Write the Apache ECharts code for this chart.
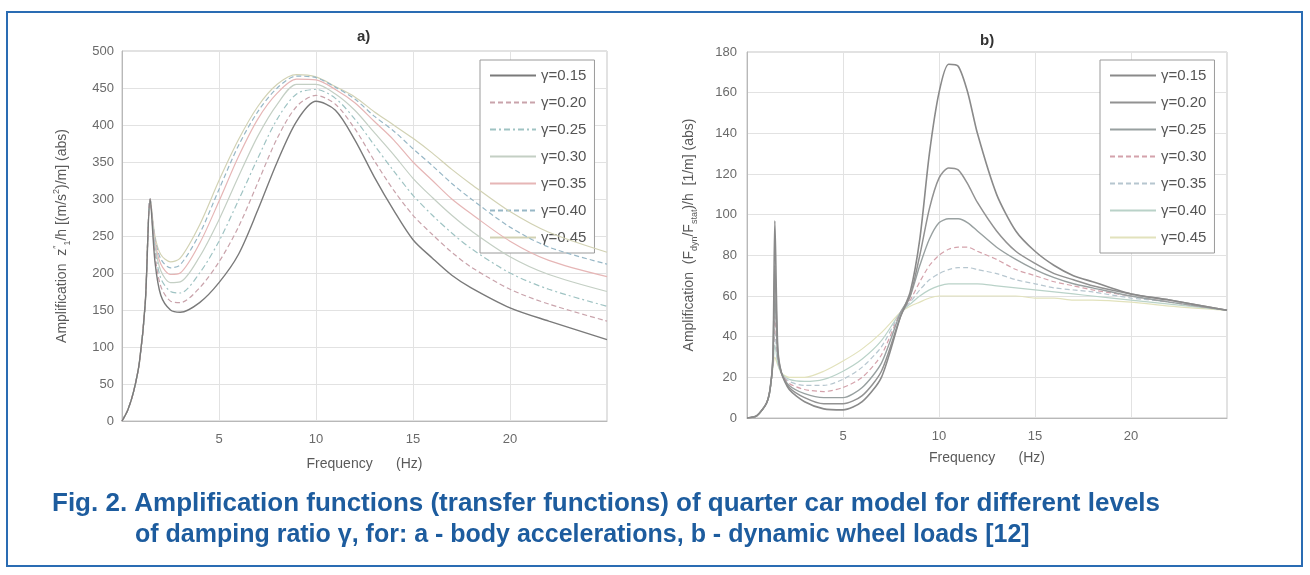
<!DOCTYPE html>
<html><head><meta charset="utf-8">
<script src="https://cdn.jsdelivr.net/npm/echarts@6/dist/echarts.min.js"></script>
<style>html,body{margin:0;padding:0;background:#fff}#c{width:1310px;height:575px}</style>
</head><body><div id="c"></div>
<script>
// ---------- data ----------
const gammaLabels = ['γ=0.15','γ=0.20','γ=0.25','γ=0.30','γ=0.35','γ=0.40','γ=0.45'];
const ticksA = [0,50,100,150,200,250,300,350,400,450,500];
const ticksB = [0,20,40,60,80,100,120,140,160,180];
const freqTicks = [5,10,15,20];

// panel a) body accelerations
const freqA = [0,0.3,0.6,0.9,1.2,1.45,1.7,2,2.5,3,4,5,6,7,8,9,10,11,12,13,14,15,16,17,18,20,22,25];
const accelG15 = [0,15,40,80,160,300,215,170,150,147,160,187,225,285,350,405,432,420,380,330,285,245,220,197,180,153,135,110];
const accelG20 = [0,15,40,80,160,300,225,182,162,160,180,215,262,322,382,425,440,428,395,352,312,278,252,228,208,178,158,135];
const accelG25 = [0,15,40,80,160,300,232,193,175,173,200,243,298,355,408,442,448,436,408,373,338,305,278,254,233,200,178,155];
const accelG30 = [0,15,40,80,160,300,238,203,187,188,222,272,330,385,428,455,455,442,420,390,360,328,302,278,257,222,198,175];
const accelG35 = [0,15,40,80,160,300,243,212,198,200,240,297,357,408,443,462,461,448,430,405,380,350,325,300,280,243,217,195];
const accelG40 = [0,15,40,80,160,300,247,219,207,211,253,313,372,418,450,466,464,451,435,412,392,368,345,321,300,262,235,212];
const accelG45 = [0,15,40,80,160,300,250,225,215,220,265,325,380,425,455,468,465,452,438,418,400,382,362,340,320,283,255,228];

// panel b) dynamic wheel loads
const freqB = [0,0.5,1,1.2,1.35,1.45,1.6,1.8,2.2,3,4,5,6,7,8,8.5,9,9.5,10,10.5,11,11.5,12,13,14,15,16,17,18,20,22,25];
const wheelG15 = [0,1,7,14,30,97,35,22,14,8,4.5,4,8,20,50,62,88,130,160,174,173,160,140,110,92,82,75,70,67,61,58,53];
const wheelG20 = [0,1,7,14,29,75,33,22,15,10,7,7,11,23,50,60,80,103,118,123,122,115,106,92,82,76,71,68,65,61,58,53];
const wheelG25 = [0,1,7,14,28,60,31,22,16,12,10,10,15,27,52,60,75,88,96,98,98,96,92,84,78,73,69,66,64,60,57,53];
const wheelG30 = [0,1,7,14,27,50,30,22,17,14,13,15,20,31,52,58,67,75,80,83,84,84,82,78,73,70,67,65,63,60,57,53];
const wheelG35 = [0,1,7,14,26,42,28,22,18,16,16,19,25,35,52,57,63,68,71,73,74,74,73,71,68,66,64,63,62,59,57,53];
const wheelG40 = [0,1,7,14,26,36,27,22,19,18,19,23,29,38,52,56,60,63,65,66,66,66,66,65,64,63,62,61,60,58,56,53];
const wheelG45 = [0,1,7,14,25,30,26,22,20,20,23,28,34,42,52,55,57,59,60,60,60,60,60,60,60,59,59,58,58,57,55,53];

const accelSets = [accelG15,accelG20,accelG25,accelG30,accelG35,accelG40,accelG45];
const wheelSets = [wheelG15,wheelG20,wheelG25,wheelG30,wheelG35,wheelG40,wheelG45];

// ---------- styles ----------
const FONT = 'Liberation Sans, Arial, sans-serif';
const stylesA = [
  {color:'#7a7a7a', type:'solid', width:1.4},
  {color:'#c9a3ab', type:[5,3], width:1.2},
  {color:'#9fc3c3', type:[6,3,2,3], width:1.2},
  {color:'#c4cfc4', type:'solid', width:1.2},
  {color:'#e6b6b6', type:'solid', width:1.2},
  {color:'#97b7c6', type:[5,3], width:1.2},
  {color:'#d2d2b4', type:'solid', width:1.2}
];
const stylesB = [
  {color:'#8a8a8a', type:'solid', width:1.6},
  {color:'#929292', type:'solid', width:1.5},
  {color:'#98a0a0', type:'solid', width:1.4},
  {color:'#d4a2ab', type:[5,3], width:1.2},
  {color:'#b6c6cf', type:[5,3], width:1.2},
  {color:'#b9d2c8', type:'solid', width:1.2},
  {color:'#e2e2bc', type:'solid', width:1.2}
];

const series = [];
gammaLabels.forEach((g,i)=>{
  series.push({name:'a '+g, type:'line', xAxisIndex:0, yAxisIndex:0, symbol:'none', smooth:0.3,
    lineStyle:stylesA[i], itemStyle:{color:stylesA[i].color}, z: 10-i,
    data: freqA.map((f,j)=>[f, accelSets[i][j]])});
});
gammaLabels.forEach((g,i)=>{
  series.push({name:'b '+g, type:'line', xAxisIndex:1, yAxisIndex:1, symbol:'none', smooth:0.25,
    lineStyle:stylesB[i], itemStyle:{color:stylesB[i].color}, z: 10-i,
    data: freqB.map((f,j)=>[f, wheelSets[i][j]])});
});

const axisLabel = {color:'#6a6a6a', fontSize:13, fontFamily:FONT};
function xAxis(idx, gap){
  return {type:'value', gridIndex:idx, min:0, max:25, interval:5,
    name:'Frequency      (Hz)', nameLocation:'middle', nameGap:gap,
    nameTextStyle:{color:'#5a5a5a', fontSize:14, fontFamily:FONT},
    axisLine:{show:true, lineStyle:{color:'#b8b8b8'}}, axisTick:{show:false},
    axisLabel:Object.assign({showMinLabel:false, showMaxLabel:false, margin:12,
      formatter:v=>freqTicks.indexOf(v)>=0?String(v):''}, axisLabel),
    splitLine:{show:true, lineStyle:{color:'#e2e2e2'}}};
}
const sub = {fontSize:9, fontFamily:FONT, color:'#5a5a5a', verticalAlign:'bottom', lineHeight:20};
const sup = {fontSize:9, fontFamily:FONT, color:'#5a5a5a', verticalAlign:'top', lineHeight:20};

function legend(names, left){
  return {data:names, orient:'vertical', left:left, top:60, itemWidth:46, itemHeight:14, itemGap:12,
    padding:[8,8,8,9], backgroundColor:'#fff', borderColor:'#9a9a9a', borderWidth:1, selectedMode:false,
    itemStyle:{opacity:0}, formatter:n=>n.slice(2),
    textStyle:{color:'#555', fontSize:15, fontFamily:FONT, padding:[0,0,0,0]}};
}

const option = {
  backgroundColor:'#fff',
  animation:false,
  title:[
    {text:'a)', left:352, top:24, textStyle:{fontSize:15, fontWeight:'bold', color:'#333', fontFamily:FONT}},
    {text:'b)', left:975, top:28, textStyle:{fontSize:15, fontWeight:'bold', color:'#333', fontFamily:FONT}}
  ],
  grid:[
    {left:122, top:51, width:485, height:370, show:true, borderColor:'#c4c4c4', borderWidth:1},
    {left:747, top:52, width:480, height:366, show:true, borderColor:'#c4c4c4', borderWidth:1}
  ],
  xAxis:[xAxis(0,36), xAxis(1,33)],
  yAxis:[
    {type:'value', gridIndex:0, min:0, max:500, interval:50,
      name:'Amplification  z{sup|\u2033}{sub|1}/h [(m/s{sup|2})/m] (abs)', nameLocation:'middle', nameGap:50,
      nameTextStyle:{color:'#5a5a5a', fontSize:14, fontFamily:FONT, lineHeight:20, rich:{sub:sub, sup:sup}},
      axisLine:{show:true, lineStyle:{color:'#b8b8b8'}}, axisTick:{show:false},
      axisLabel:Object.assign({margin:8}, axisLabel),
      splitLine:{show:true, lineStyle:{color:'#e2e2e2'}}},
    {type:'value', gridIndex:1, min:0, max:180, interval:20,
      name:'Amplification  (F{sub|dyn}/F{sub|stat})/h  [1/m] (abs)', nameLocation:'middle', nameGap:48,
      nameTextStyle:{color:'#5a5a5a', fontSize:14, fontFamily:FONT, lineHeight:20, rich:{sub:sub, sup:sup}},
      axisLine:{show:true, lineStyle:{color:'#b8b8b8'}}, axisTick:{show:false},
      axisLabel:Object.assign({margin:10}, axisLabel),
      splitLine:{show:true, lineStyle:{color:'#e2e2e2'}}}
  ],
  legend:[legend(gammaLabels.map(g=>'a '+g), 480), legend(gammaLabels.map(g=>'b '+g), 1100)],
  graphic:[
    {type:'rect', shape:{x:7, y:12, width:1295, height:554}, style:{fill:'none', stroke:'#2a6cb3', lineWidth:2}, silent:true, z:100},
    {type:'text', left:52, top:491, style:{text:'Fig. 2. Amplification functions (transfer functions) of quarter car model for different levels',
      fill:'#1d5c9e', font:'bold 26px '+FONT}},
    {type:'text', left:135, top:523, style:{text:'of damping ratio γ, for: a - body accelerations, b - dynamic wheel loads [12]',
      fill:'#1d5c9e', font:'bold 25px '+FONT}}
  ],
  series:series
};
const chart = echarts.init(document.getElementById('c'), null, {renderer:'canvas'});
chart.setOption(option);
</script>
</body></html>
